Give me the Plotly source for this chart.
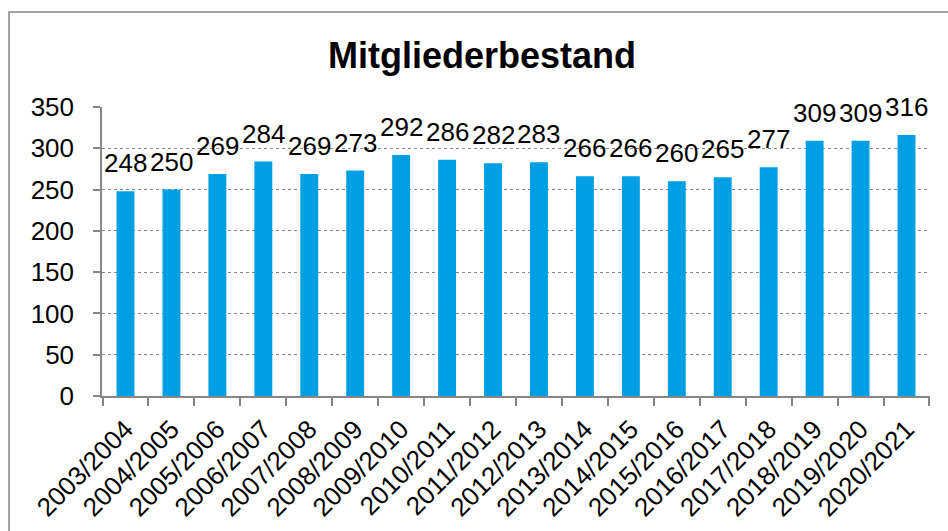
import plotly.graph_objects as go

categories = ["2003/2004", "2004/2005", "2005/2006", "2006/2007", "2007/2008", "2008/2009",
              "2009/2010", "2010/2011", "2011/2012", "2012/2013", "2013/2014", "2014/2015",
              "2015/2016", "2016/2017", "2017/2018", "2018/2019", "2019/2020", "2020/2021"]
members = [248, 250, 269, 284, 269, 273, 292, 286, 282, 283, 266, 266, 260, 265, 277, 309, 309, 316]
y_ticks = [0, 50, 100, 150, 200, 250, 300, 350]

FONT = "Liberation Sans, Arial, sans-serif"
GREY = "#868686"
FS = 26

fig = go.Figure()
fig.add_trace(go.Bar(
    x=categories, y=members,
    marker=dict(color="#009FE3", line=dict(width=0)),
    cliponaxis=False,
    hoverinfo="x+y",
))

annotations = [
    dict(x=c, y=v, xref="x", yref="y", text=str(v), showarrow=False,
         yanchor="bottom", xanchor="center", yshift=11,
         font=dict(family=FONT, size=FS, color="#000000"))
    for c, v in zip(categories, members)
]

L, R, T, B = 102, 18, 107, 135
W, H = 948, 531
pw, ph = W - L - R, H - T - B

def px(x):
    return (x - L) / pw

def py(y):
    return (H - B - y) / ph

fig.update_layout(
    width=W, height=H,
    margin=dict(l=L, r=R, t=T, b=B, autoexpand=False),
    paper_bgcolor="white", plot_bgcolor="white",
    showlegend=False,
    bargap=0.61,
    font=dict(family=FONT, size=FS, color="#000000"),
    title=dict(text="<b>Mitgliederbestand</b>", x=482 / W, xanchor="center",
               y=1 - 55 / H, yanchor="middle", xref="container", yref="container",
               font=dict(family=FONT, size=36, color="#000000")),
    annotations=annotations,
    shapes=[dict(type="rect", xref="paper", yref="paper",
                 x0=px(9), x1=px(952), y0=py(540), y1=py(12),
                 line=dict(color=GREY, width=1.5), fillcolor="rgba(0,0,0,0)", layer="below")],
    xaxis=dict(
        type="category", tickangle=-45, tickson="boundaries", automargin=False,
        ticks="outside", ticklen=8, tickcolor=GREY, tickwidth=1.5,
        showline=True, linecolor=GREY, linewidth=1.5,
        showgrid=False, ticklabelstandoff=6,
        tickfont=dict(family=FONT, size=FS, color="#000000"),
    ),
    yaxis=dict(
        range=[0, 350], tickvals=y_ticks, automargin=False,
        ticks="outside", ticklen=7, tickcolor=GREY, tickwidth=1.5,
        showline=True, linecolor=GREY, linewidth=1.5,
        showgrid=True, gridcolor=GREY, gridwidth=1, griddash="dot",
        zeroline=False, ticklabelstandoff=14,
        tickfont=dict(family=FONT, size=FS, color="#000000"),
    ),
)

fig.write_html("out.html", config={"displayModeBar": False},
               post_script="document.body.style.margin='0';document.body.style.overflow='hidden';")
